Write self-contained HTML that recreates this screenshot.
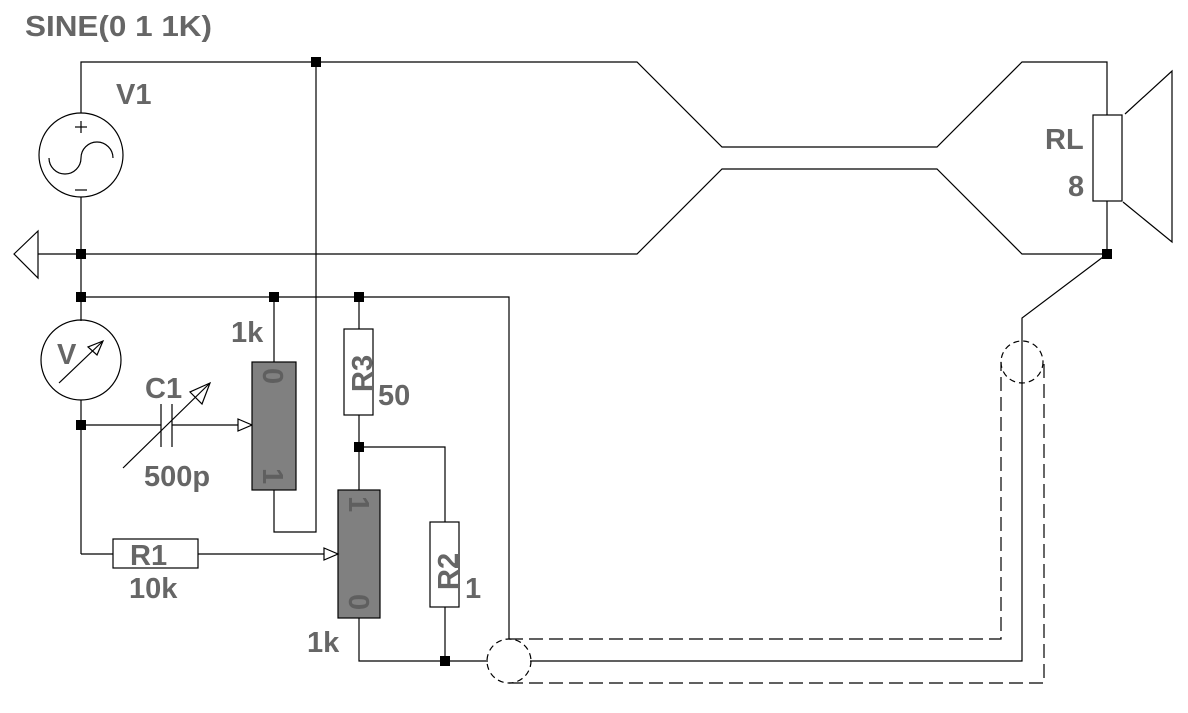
<!DOCTYPE html>
<html><head><style>body{margin:0;background:#fff}svg{display:block}text{font-family:"Liberation Sans",Arial,sans-serif;font-weight:bold;fill:#666;font-size:29px}</style></head><body>
<svg width="1188" height="713" viewBox="0 0 1188 713" xmlns="http://www.w3.org/2000/svg">
<g stroke="#000" stroke-width="1.2" fill="none">
<polyline points="81,113 81,62 637,62 722,147 937,147 1022,62 1107,62 1107,115"/>
<polyline points="1107,201 1107,254 1022,254 937,169 722,169 637,254 38,254"/>
<polygon points="14,254 38,231 38,278"/>
<line x1="81" y1="197" x2="81" y2="321"/>
<circle cx="81" cy="155" r="42"/>
<line x1="75" y1="127" x2="87" y2="127"/><line x1="81" y1="121" x2="81" y2="133"/>
<line x1="75" y1="190" x2="87" y2="190"/>
<path d="M49,158 A16,16 0 0 0 81,158 A16,16 0 0 1 113,158"/>
<polyline points="316,62 316,532 274,532 274,490"/>
<polyline points="81,297 509,297 509,639"/>
<line x1="274" y1="297" x2="274" y2="362"/>
<line x1="359" y1="297" x2="359" y2="329"/>
<circle cx="81" cy="360" r="40"/>
<line x1="59" y1="383" x2="103" y2="341"/>
<polygon points="103,341 88,347 97,355"/>
<line x1="81" y1="400" x2="81" y2="554"/>
<line x1="81" y1="425" x2="161" y2="425"/><line x1="172" y1="425" x2="238" y2="425"/>
<polygon points="238,419 252,425 238,431"/>
<line x1="161" y1="404" x2="161" y2="447"/><line x1="172" y1="404" x2="172" y2="447"/>
<line x1="123" y1="468" x2="210" y2="383"/>
<polygon points="210,383 190,392 202,404"/>
<rect x="252" y="362" width="44" height="128" fill="#808080"/>
<rect x="344" y="329" width="29" height="86"/>
<line x1="359" y1="415" x2="359" y2="490"/>
<polyline points="359,447 445,447 445,522"/>
<rect x="430" y="522" width="29" height="85"/>
<line x1="445" y1="607" x2="445" y2="661"/>
<rect x="338" y="490" width="42" height="128" fill="#808080"/>
<polyline points="359,618 359,661 488,661"/>
<polyline points="81,554 113,554"/>
<rect x="113" y="539" width="85" height="29"/>
<line x1="198" y1="554" x2="324" y2="554"/>
<polygon points="324,548 338,554 324,560"/>
<circle cx="509" cy="661" r="22" stroke-dasharray="6,4"/>
<polyline points="530,661 1022,661 1022,318 1107,254"/>
<circle cx="1022" cy="362" r="21" stroke-dasharray="6,4"/>
<polyline points="509,639 1001,639 1001,362" stroke-dasharray="14,6"/>
<polyline points="509,683 1044,683 1044,362" stroke-dasharray="14,6"/>
<rect x="1093" y="115" width="29" height="86"/>
<polyline points="1125,114 1172,71 1172,242 1123,202"/>
</g>
<g fill="#000">
<rect x="311" y="57" width="10" height="10"/>
<rect x="76" y="249" width="10" height="10"/>
<rect x="76" y="292" width="10" height="10"/>
<rect x="269" y="292" width="10" height="10"/>
<rect x="354" y="292" width="10" height="10"/>
<rect x="76" y="420" width="10" height="10"/>
<rect x="354" y="442" width="10" height="10"/>
<rect x="440" y="656" width="10" height="10"/>
<rect x="1102" y="249" width="10" height="10"/>
</g>
<text x="25" y="36" textLength="187" lengthAdjust="spacingAndGlyphs">SINE(0 1 1K)</text>
<text x="116" y="104">V1</text>
<text x="1045" y="149">RL</text>
<text x="1068" y="196">8</text>
<text x="57" y="364" font-size="31">V</text>
<text x="231" y="342">1k</text>
<text x="145" y="398">C1</text>
<text x="144" y="486">500p</text>
<text x="378" y="405">50</text>
<text x="130" y="565">R1</text>
<text x="129" y="598">10k</text>
<text x="465" y="598">1</text>
<text x="307" y="652">1k</text>
<text transform="translate(372,392) rotate(-90)">R3</text>
<text transform="translate(458,590) rotate(-90)">R2</text>
<g style="font-size:27px">
<text transform="translate(263,368) rotate(90)" style="fill:#5f5f5f">0</text>
<text transform="translate(263,468) rotate(90)" style="fill:#5f5f5f">1</text>
<text transform="translate(349,496) rotate(90)" style="fill:#5f5f5f">1</text>
<text transform="translate(349,594) rotate(90)" style="fill:#5f5f5f">0</text>
</g>
</svg>
</body></html>
